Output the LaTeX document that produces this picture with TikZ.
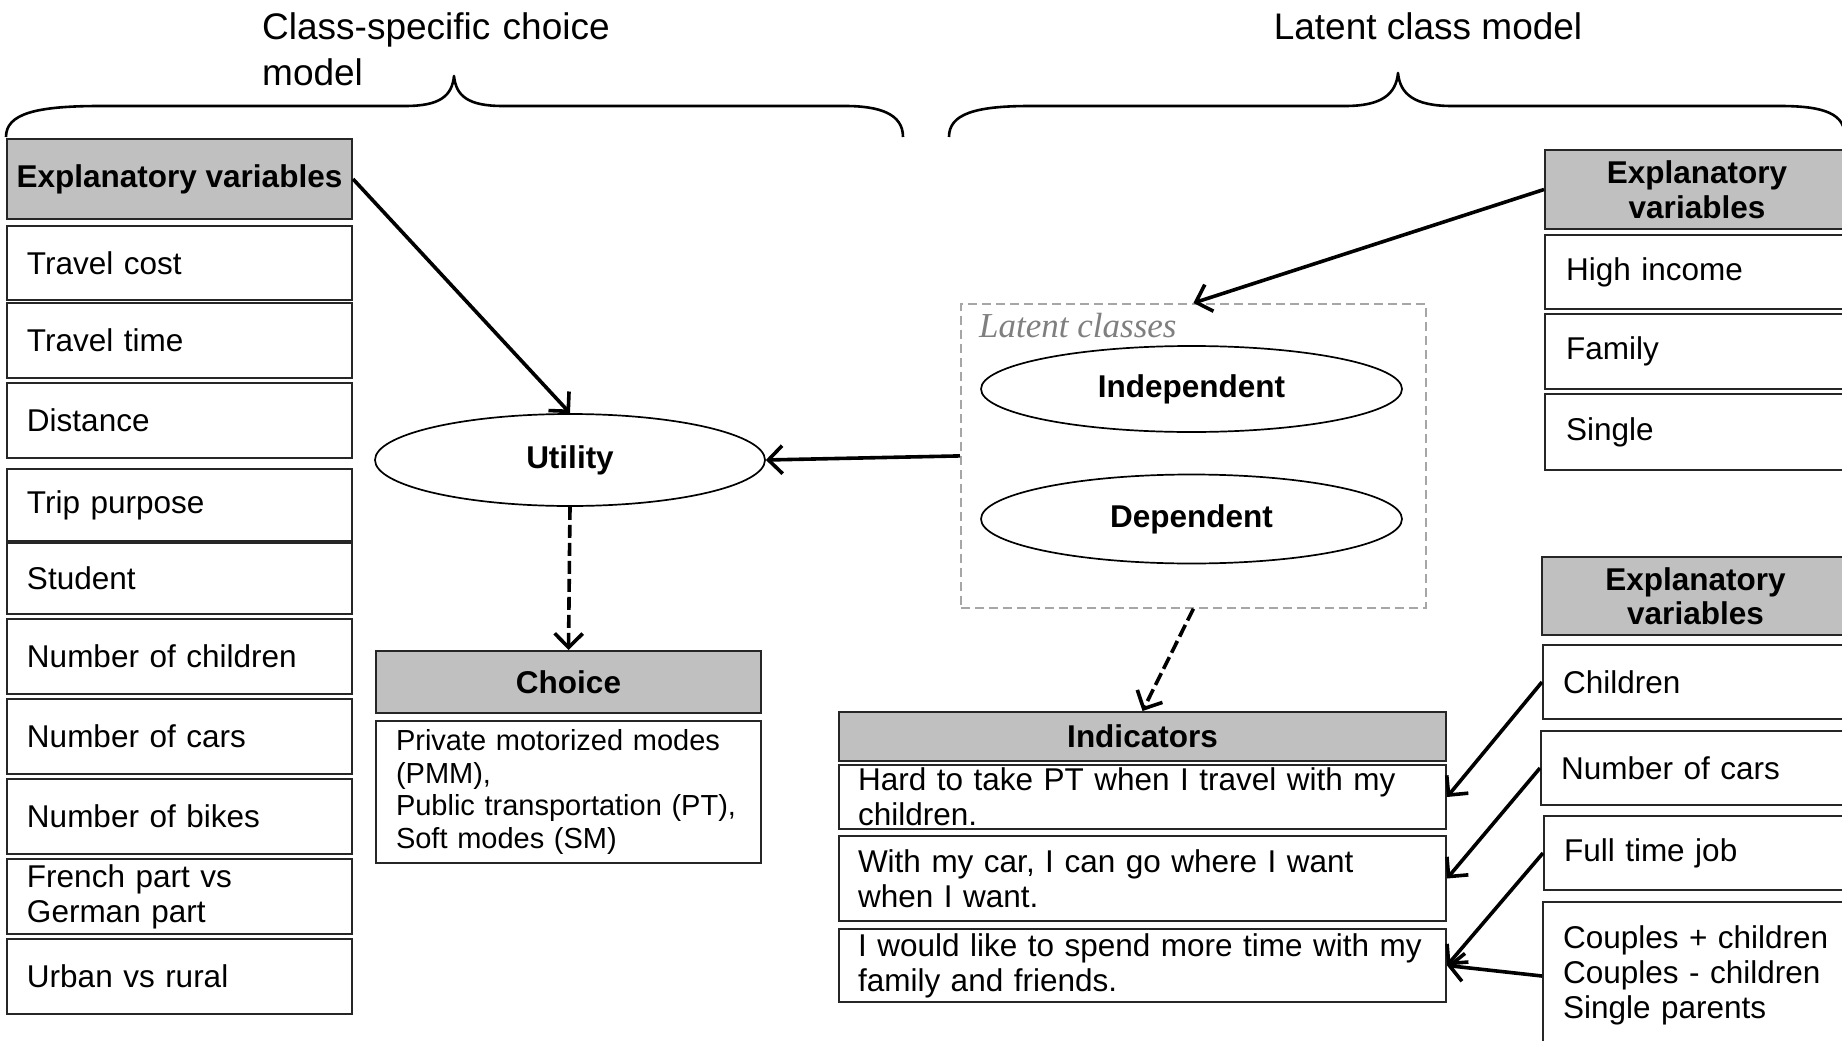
\documentclass[tikz,border=0pt]{standalone}
\usepackage{fontspec}
\setmainfont{Liberation Sans}
\newfontfamily\latentfont{Liberation Serif}
\usetikzlibrary{arrows.meta,shapes.geometric}
\newcommand\setfs[2]{\fontsize{#1}{#2}\selectfont}
\definecolor{headgray}{HTML}{C0C0C0}
\definecolor{framegray}{HTML}{A6A6A6}
\definecolor{labelgray}{HTML}{7F7F7F}

\begin{document}
\begin{tikzpicture}[x=1pt,y=-1pt,
  cell/.style={draw=black!85, line width=2pt, fill=white, inner xsep=20pt, inner ysep=0pt,
               align=left, anchor=north west, font=\setfs{31.5}{35}},
  head/.style={draw=black!85, line width=2pt, fill=headgray, inner sep=0pt,
               align=center, anchor=north west, font=\bfseries\setfs{31.5}{34.5}},
  oval/.style={ellipse, draw=black, line width=1.7pt, fill=white, inner sep=0pt,
               font=\bfseries\setfs{31.5}{35}},
  link/.style={line width=3.6pt, -{Straight Barb[length=14pt,width=28pt,line width=3.6pt]}},
  dlink/.style={link, dash pattern=on 13pt off 5pt},
  brace/.style={line width=2.6pt, line join=round},
  frame/.style={draw=framegray, line width=1.8pt, dash pattern=on 9pt off 5pt, anchor=north west, inner sep=0pt}
]
\clip (0,0) rectangle (1842,1041);
\fill[white] (0,0) rectangle (1842,1041);

% ---------- titles and braces ----------
\node[anchor=base west, inner sep=0pt, text width=420pt, align=left, font=\setfs{37}{46}]
  (titleL) at (262,40) {Class-specific choice\\model};
\node[anchor=base, inner sep=0pt, font=\setfs{37}{44}] (titleR) at (1428,40) {Latent class model};

\draw[brace] (6,137) .. controls (6,114) and (35,106) .. (100,106) -- (405,106)
  .. controls (440,106) and (452,96) .. (454,76)
  .. controls (456,96) and (468,106) .. (503,106) -- (845,106)
  .. controls (880,106) and (903,114) .. (903,137);
\draw[brace] (949,137) .. controls (949,114) and (975,106) .. (1030,106) -- (1345,106)
  .. controls (1382,106) and (1396,94) .. (1398,73)
  .. controls (1400,94) and (1414,106) .. (1452,106) -- (1780,106)
  .. controls (1825,106) and (1845,114) .. (1845,137);

% ---------- class-specific choice model: explanatory variables ----------
\node[head, minimum width=345pt, minimum height=80pt] (evL) at (6,138) {Explanatory variables};
\node[cell, text width=305pt, minimum height=74pt] (tcost) at (6,225) {Travel cost};
\node[cell, text width=305pt, minimum height=75pt] (ttime) at (6,302) {Travel time};
\node[cell, text width=305pt, minimum height=75pt] (dist)  at (6,382) {Distance};
\node[cell, text width=305pt, minimum height=72pt] (purp)  at (6,468) {Trip purpose};
\node[cell, text width=305pt, minimum height=71pt] (stud)  at (6,542) {Student};
\node[cell, text width=305pt, minimum height=75pt] (nchild) at (6,618) {Number of children};
\node[cell, text width=305pt, minimum height=75pt] (ncarL) at (6,698) {Number of cars};
\node[cell, text width=305pt, minimum height=75pt] (nbike) at (6,778) {Number of bikes};
\node[cell, text width=305pt, minimum height=75pt] (lang)  at (6,858) {French part vs\\German part};
\node[cell, text width=305pt, minimum height=75pt] (urban) at (6,938) {Urban vs rural};

% ---------- utility and choice ----------
\node[oval, minimum width=390pt, minimum height=92pt] (util) at (570,460) {Utility};
\node[head, minimum width=385pt, minimum height=62pt] (chead) at (375,650) {Choice};
\node[cell, text width=345pt, minimum height=142pt, font=\setfs{29}{32.5}] (cbody) at (375,720)
  {Private motorized modes\\(PMM),\\Public transportation (PT),\\Soft modes (SM)};

% ---------- latent classes ----------
\node[frame, minimum width=465pt, minimum height=304pt] (lat) at (960,303) {};
\node[anchor=base west, inner sep=0pt, text=labelgray, font=\latentfont\itshape\setfs{35}{40}]
  (latlabel) at (979,337) {Latent classes};
\node[oval, minimum width=421pt, minimum height=86pt] (indep) at (1191.5,389) {Independent};
\node[oval, minimum width=421pt, minimum height=89pt] (dep) at (1191.5,519) {Dependent};

% ---------- indicators ----------
\node[head, minimum width=607pt, minimum height=49pt] (ind) at (838,711) {Indicators};
\node[cell, inner xsep=19pt, text width=569pt, minimum height=64pt] (ind1) at (838,764)
  {Hard to take PT when I travel with my\\children.};
\node[cell, inner xsep=19pt, text width=569pt, minimum height=85pt] (ind2) at (838,835)
  {With my car, I can go where I want\\when I want.};
\node[cell, inner xsep=19pt, text width=569pt, minimum height=73pt] (ind3) at (838,928)
  {I would like to spend more time with my\\family and friends.};

% ---------- latent class model: explanatory variables ----------
\node[head, minimum width=304pt, minimum height=79pt] (evR) at (1544,149) {Explanatory\\variables};
\node[cell, inner xsep=21pt, text width=262pt, minimum height=74pt] (hinc) at (1544,234) {High income};
\node[cell, inner xsep=21pt, text width=262pt, minimum height=75pt] (fam)  at (1544,313) {Family};
\node[cell, inner xsep=21pt, text width=262pt, minimum height=76pt] (sing) at (1544,393) {Single};

\node[head, minimum width=307pt, minimum height=78pt] (evR2) at (1541,556) {Explanatory\\variables};
\node[cell, text width=266pt, minimum height=74pt] (chil)  at (1542,644) {Children};
\node[cell, text width=268pt, minimum height=74pt] (ncarR) at (1540,730) {Number of cars};
\node[cell, text width=265pt, minimum height=74pt] (ftj)   at (1543,815) {Full time job};
\node[cell, text width=266pt, text height=46pt, text depth=102pt] (coup) at (1542,901)
  {Couples + children\\Couples - children\\Single parents};

% ---------- connectors ----------
\draw[link] (evL.east) -- (util.north);
\draw[link] (lat.west) -- (util.east);
\draw[link] (evR.west) -- (lat.north);
\draw[dlink] (util.south) -- (chead.north);
\draw[dlink] (lat.south) -- (ind.north);
\draw[link] (chil.west) -- (ind1.east);
\draw[link] (ncarR.west) -- (ind2.east);
\draw[link] (ftj.west) -- (ind3.east);
\draw[link] (coup.west) -- (ind3.east);
\end{tikzpicture}
\end{document}
